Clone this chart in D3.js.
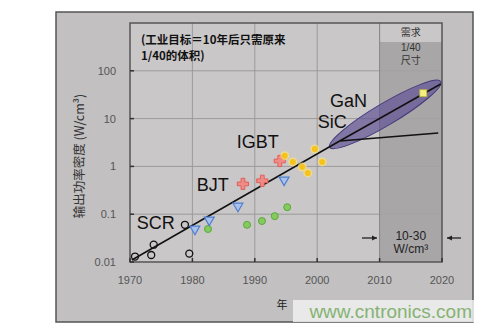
<!DOCTYPE html>
<html>
<head>
<meta charset="utf-8">
<script src="https://cdn.jsdelivr.net/npm/d3@7"></script>
<style>
  body { margin: 0; background: #fff; }
  text { font-family: "Liberation Sans", Arial, "Noto Sans CJK SC", sans-serif; }
  .cjk { font-family: "Noto Sans CJK SC", "Liberation Sans", sans-serif; }
</style>
</head>
<body>
<div id="chart"></div>
<script>
// data
const yearTicks = [1970, 1980, 1990, 2000, 2010, 2020];
const valTicks = [0.01, 0.1, 1, 10, 100];
const valTickLabels = ["0.01", "0.1", "1", "10", "100"];

const scrYear = [1970.8, 1973.4, 1973.8, 1978.8, 1979.5];
const scrVal = [0.013, 0.014, 0.023, 0.06, 0.015];

const bjtYear = [1980.4, 1982.7, 1987.3, 1994.7];
const bjtVal = [0.049, 0.076, 0.148, 0.52];

const redYear = [1988.1, 1991.2, 1994.0];
const redVal = [0.43, 0.5, 1.3];

const greenYear = [1982.5, 1988.75, 1991.15, 1993.2, 1995.2];
const greenVal = [0.049, 0.06, 0.072, 0.091, 0.14];

const igbtYear = [1994.8, 1996.1, 1997.6, 1998.5, 1999.6, 2000.8];
const igbtVal = [1.67, 1.24, 0.97, 0.73, 2.31, 1.24];

const ganYear = [2017];
const ganVal = [34];

const trendMain = [[1970.3, 0.011], [2003.6, 3.4]];
const trendGaN = [[2003.6, 3.4], [2019.8, 53]];
const trendSiC = [[2003.6, 3.4], [2019.4, 5.0]];
const ellipseEnds = [[2002, 2.5], [2019.8, 60]];

const labelText = ["SCR", "BJT", "IGBT", "GaN", "SiC"];
const labelYear = [1971.1, 1980.7, 1987.1, 2002.05, 2000.1];
const labelVal = [0.049, 0.31, 2.43, 17.5, 6.35];

const noteLines = ["(工业目标＝10年后只需原来", "1/40的体积)"];
const bandYears = [2010, 2020];

const width = 494, height = 331;
const svg = d3.select("#chart").append("svg")
  .attr("width", width).attr("height", height);

// outer panel
svg.append("rect")
  .attr("x", 56).attr("y", 12).attr("width", 417).attr("height", 310)
  .attr("fill", "#c2c0c1").attr("stroke", "#555").attr("stroke-width", 1.5);

const x = d3.scaleLinear().domain([1970, 2020]).range([130, 442]);
const y = d3.scaleLog().domain([0.01, 1000]).range([262, 23]);

// plot background
svg.append("rect")
  .attr("x", x(1970)).attr("y", y(1000))
  .attr("width", x(2020) - x(1970)).attr("height", y(0.01) - y(1000))
  .attr("fill", "#c9c7c8");

// grid
svg.append("g").selectAll("line").data(yearTicks.slice(1, -1)).join("line")
  .attr("x1", d => x(d)).attr("x2", d => x(d))
  .attr("y1", y(1000)).attr("y2", y(0.01))
  .attr("stroke", "#9c9a9b").attr("stroke-width", 1);
svg.append("g").selectAll("line").data(valTicks.slice(1)).join("line")
  .attr("x1", x(1970)).attr("x2", x(2020))
  .attr("y1", d => y(d)).attr("y2", d => y(d))
  .attr("stroke", "#9c9a9b").attr("stroke-width", 1);

// 2010-2020 demand band
svg.append("rect")
  .attr("x", x(bandYears[0])).attr("y", y(1000) + 19)
  .attr("width", x(bandYears[1]) - x(bandYears[0]))
  .attr("height", y(0.01) - y(1000) - 19)
  .attr("fill", "#a4a2a3").attr("opacity", 0.9);
svg.append("line")
  .attr("x1", x(bandYears[0])).attr("x2", x(bandYears[0]))
  .attr("y1", y(1000)).attr("y2", y(0.01))
  .attr("stroke", "#8a8889");

const bandMid = (x(bandYears[0]) + x(bandYears[1])) / 2;
svg.append("text").attr("class", "cjk").attr("x", bandMid).attr("y", 36)
  .attr("text-anchor", "middle").attr("font-size", 10).attr("fill", "#333").text("需求");
svg.append("text").attr("x", bandMid).attr("y", 51)
  .attr("text-anchor", "middle").attr("font-size", 10).attr("fill", "#333").text("1/40");
svg.append("text").attr("class", "cjk").attr("x", bandMid).attr("y", 64)
  .attr("text-anchor", "middle").attr("font-size", 10).attr("fill", "#333").text("尺寸");

svg.append("text").attr("x", bandMid).attr("y", 240)
  .attr("text-anchor", "middle").attr("font-size", 12).attr("fill", "#222").text("10-30");
svg.append("text").attr("x", bandMid).attr("y", 253)
  .attr("text-anchor", "middle").attr("font-size", 12).attr("fill", "#222")
  .text("W/cm³");

// arrows pointing into the band
const arrowY = 238;
function arrow(x1, x2) {
  const dir = Math.sign(x2 - x1);
  svg.append("line").attr("x1", x1).attr("x2", x2).attr("y1", arrowY).attr("y2", arrowY)
    .attr("stroke", "#222").attr("stroke-width", 1.3);
  svg.append("path")
    .attr("d", `M${x2},${arrowY}L${x2 - dir * 5},${arrowY - 2.5}L${x2 - dir * 5},${arrowY + 2.5}Z`)
    .attr("fill", "#222");
}
arrow(362, 377);
arrow(461, 447);

// plot border
svg.append("rect")
  .attr("x", x(1970)).attr("y", y(1000))
  .attr("width", x(2020) - x(1970)).attr("height", y(0.01) - y(1000))
  .attr("fill", "none").attr("stroke", "#555").attr("stroke-width", 1.5);

// ticks (inward)
svg.append("g").selectAll("line").data(valTicks).join("line")
  .attr("x1", x(1970)).attr("x2", x(1970) + 4)
  .attr("y1", d => y(d)).attr("y2", d => y(d))
  .attr("stroke", "#333").attr("stroke-width", 1.5);
svg.append("g").selectAll("line").data(yearTicks).join("line")
  .attr("x1", d => x(d)).attr("x2", d => x(d))
  .attr("y1", y(0.01)).attr("y2", y(0.01) - 4)
  .attr("stroke", "#333").attr("stroke-width", 1.5);

// tick labels
svg.append("g").selectAll("text").data(yearTicks).join("text")
  .attr("x", d => x(d)).attr("y", 284)
  .attr("text-anchor", "middle").attr("font-size", 11).attr("fill", "#555")
  .text(d => d);
svg.append("g").selectAll("text").data(valTicks).join("text")
  .attr("x", 116).attr("y", d => y(d) + 4)
  .attr("text-anchor", "end").attr("font-size", 11).attr("fill", "#555")
  .text((d, i) => valTickLabels[i]);

// axis titles
svg.append("text").attr("class", "cjk")
  .attr("transform", `translate(84,156) rotate(-90)`)
  .attr("text-anchor", "middle").attr("font-size", 12.5).attr("fill", "#333")
  .text("输出功率密度 (W/cm³)");
svg.append("text").attr("class", "cjk").attr("x", 282).attr("y", 309)
  .attr("text-anchor", "middle").attr("font-size", 11).attr("fill", "#222").text("年");

// annotation, two lines
svg.append("g").selectAll("text").data(noteLines).join("text")
  .attr("class", "cjk")
  .attr("x", 141).attr("y", (d, i) => 44 + i * 15.5)
  .attr("font-size", 11.5).attr("font-weight", "bold").attr("fill", "#111")
  .text(d => d);

// purple ellipse around GaN / SiC
const e0 = [x(ellipseEnds[0][0]), y(ellipseEnds[0][1])];
const e1 = [x(ellipseEnds[1][0]), y(ellipseEnds[1][1])];
const ecx = (e0[0] + e1[0]) / 2, ecy = (e0[1] + e1[1]) / 2;
const erx = Math.hypot(e1[0] - e0[0], e1[1] - e0[1]) / 2;
const eang = Math.atan2(e1[1] - e0[1], e1[0] - e0[0]) * 180 / Math.PI;
svg.append("ellipse")
  .attr("cx", ecx).attr("cy", ecy).attr("rx", erx).attr("ry", 11)
  .attr("transform", `rotate(${eang},${ecx},${ecy})`)
  .attr("fill", "#5e4f94").attr("fill-opacity", 0.68)
  .attr("stroke", "#46397a").attr("stroke-width", 1);

// trend lines
const line = d3.line().x(d => x(d[0])).y(d => y(d[1]));
[trendMain, trendGaN, trendSiC].forEach(t => {
  svg.append("path").attr("d", line(t))
    .attr("fill", "none").attr("stroke", "#111").attr("stroke-width", 1.5);
});

// SCR open circles
svg.append("g").selectAll("circle").data(scrYear).join("circle")
  .attr("cx", d => x(d)).attr("cy", (d, i) => y(scrVal[i])).attr("r", 3.5)
  .attr("fill", "none").attr("stroke", "#111").attr("stroke-width", 1.3);

// green circles
svg.append("g").selectAll("circle").data(greenYear).join("circle")
  .attr("cx", d => x(d)).attr("cy", (d, i) => y(greenVal[i])).attr("r", 3.5)
  .attr("fill", "#86c95f").attr("stroke", "#5aa93c").attr("stroke-width", 1);

// blue inverted triangles
const tri = d3.symbol().type(d3.symbolTriangle).size(42);
svg.append("g").selectAll("path").data(bjtYear).join("path")
  .attr("d", tri)
  .attr("transform", (d, i) => `translate(${x(d)},${y(bjtVal[i])}) rotate(180)`)
  .attr("fill", "#a9c1ea").attr("stroke", "#4f7fd0").attr("stroke-width", 1.2);

// red crosses
const cross = d3.symbol().type(d3.symbolCross).size(70);
svg.append("g").selectAll("path").data(redYear).join("path")
  .attr("d", cross)
  .attr("transform", (d, i) => `translate(${x(d)},${y(redVal[i])})`)
  .attr("fill", "#f08a84").attr("stroke", "#e0605c").attr("stroke-width", 1);

// IGBT yellow glowing dots
const ig = svg.append("g");
ig.selectAll("circle.halo").data(igbtYear).join("circle").attr("class", "halo")
  .attr("cx", d => x(d)).attr("cy", (d, i) => y(igbtVal[i])).attr("r", 4.5)
  .attr("fill", "#fbe27a").attr("opacity", 0.7);
ig.selectAll("circle.dot").data(igbtYear).join("circle").attr("class", "dot")
  .attr("cx", d => x(d)).attr("cy", (d, i) => y(igbtVal[i])).attr("r", 3)
  .attr("fill", "#f6c21c");

// GaN yellow square
svg.append("g").selectAll("rect").data(ganYear).join("rect")
  .attr("x", d => x(d) - 3.5).attr("y", (d, i) => y(ganVal[i]) - 3.5)
  .attr("width", 7).attr("height", 7)
  .attr("fill", "#f5f07a").attr("stroke", "#b8b040").attr("stroke-width", 0.8);

// device labels
svg.append("g").selectAll("text").data(labelText).join("text")
  .attr("x", (d, i) => x(labelYear[i])).attr("y", (d, i) => y(labelVal[i]))
  .attr("font-size", 18).attr("fill", "#111")
  .text(d => d);

// watermark
svg.append("rect")
  .attr("x", 293).attr("y", 300).attr("width", 181).attr("height", 22)
  .attr("fill", "#eef0ee").attr("opacity", 0.85);
svg.append("text").attr("x", 472).attr("y", 318)
  .attr("text-anchor", "end").attr("font-size", 19).attr("fill", "#86b373")
  .text("www.cntronics.com");
</script>
</body>
</html>
